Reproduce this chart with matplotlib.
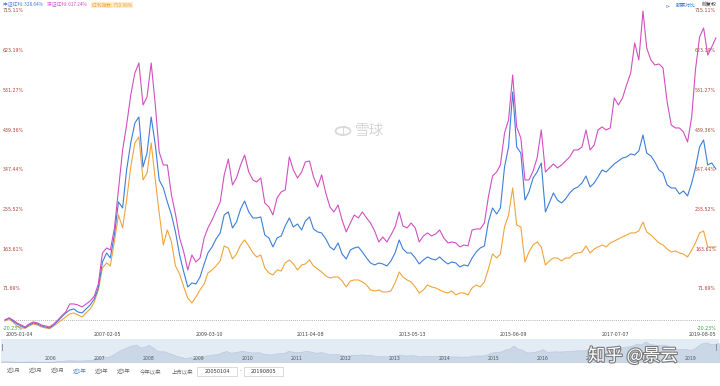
import matplotlib
matplotlib.use("Agg")
import matplotlib.pyplot as plt
import matplotlib.patheffects as pe
from matplotlib.patches import Rectangle, Circle
import pandas as pd

plt.rcParams["font.family"] = ["Noto Sans CJK SC", "DejaVu Sans"]

# monthly sample points, Jan 2005 .. Aug 2019
dates = pd.date_range("2005-01-01", periods=176, freq="MS")

# 深证红利 cumulative return (%)
szhl = [
    0, 4.6, 0, -6.9, -11.6, -16.2, -9.3, -4.6, -6.9, -11.6, -13.9, -16.2, -9.3, 0, 9.3, 18.5,
    37.0, 37.0, 34.7, 30.1, 37.0, 44.0, 55.5, 83.3, 155.1, 166.6, 162.0, 212.9, 300.9, 393.5,
    451.3, 520.8, 571.7, 594.8, 497.6, 516.1, 594.8, 497.6, 388.8, 358.7, 358.7, 289.3, 245.3,
    189.8, 157.4, 115.7, 150.4, 134.2, 143.5, 189.8, 212.9, 231.5, 252.3, 273.1, 335.6, 372.4,
    312.5, 328.7, 358.7, 381.9, 342.5, 324.0, 319.4, 328.7, 270.8, 261.5, 243.0, 282.4, 296.3,
    300.9, 377.3, 347.2, 328.7, 342.5, 365.7, 368.0, 331.0, 307.8, 335.6, 293.9, 261.5, 250.0,
    266.2, 231.5, 203.7, 224.5, 243.0, 236.1, 250.0, 236.1, 224.5, 206.0, 180.5, 192.1, 180.5,
    196.7, 215.2, 250.0, 217.6, 212.9, 224.5, 212.9, 180.5, 194.4, 201.4, 194.4, 199.0, 208.3,
    189.8, 178.2, 180.5, 178.2, 169.0, 173.6, 171.3, 208.3, 210.6, 210.6, 224.5, 284.7, 333.3,
    342.5, 358.7, 432.8, 462.9, 567.1, 446.7, 421.2, 324.0, 324.0, 344.9, 374.9, 439.8, 342.5,
    351.8, 361.1, 351.8, 358.7, 368.0, 377.3, 393.5, 393.5, 400.4, 439.8, 393.5, 405.0, 439.8,
    446.7, 439.8, 444.4, 513.8, 497.6, 513.8, 543.9, 571.7, 641.1, 601.8, 715.11, 629.5, 601.8,
    590.2, 592.5, 583.3, 504.6, 451.3, 444.4, 444.4, 435.1, 412.0, 469.8, 578.6, 655.0, 675.8,
    613.3, 631.9, 652.7,
]

# 中证红利 cumulative return (%)
zzhl = [
    0, 4.6, -2.3, -9.3, -13.9, -18.5, -11.6, -6.9, -9.3, -13.9, -16.2, -18.5, -11.6, -2.3, 6.9,
    16.2, 23.1, 25.5, 18.5, 16.2, 25.5, 34.7, 48.6, 74.1, 134.2, 155.1, 143.5, 199.0, 273.1,
    259.2, 347.2, 409.7, 456.0, 469.8, 354.1, 386.5, 469.8, 405.0, 324.0, 305.5, 273.1, 243.0,
    203.7, 150.4, 111.1, 76.4, 85.6, 83.3, 99.5, 129.6, 155.1, 169.0, 187.5, 201.4, 243.0,
    250.0, 212.9, 226.8, 256.9, 275.4, 250.0, 236.1, 236.1, 238.4, 196.7, 189.8, 169.0, 189.8,
    194.4, 217.6, 236.1, 215.2, 222.2, 208.3, 229.1, 238.4, 210.6, 203.7, 201.4, 187.5, 169.0,
    162.0, 178.2, 152.8, 141.2, 162.0, 166.6, 169.0, 157.4, 143.5, 131.9, 127.3, 131.9, 129.6,
    125.0, 136.6, 155.1, 185.2, 164.3, 155.1, 155.1, 143.5, 129.6, 138.9, 145.8, 141.2, 138.9,
    145.8, 136.6, 129.6, 134.2, 131.9, 122.7, 127.3, 125.0, 143.5, 157.4, 166.6, 171.3, 226.8,
    259.2, 245.3, 259.2, 354.1, 400.4, 527.7, 400.4, 386.5, 277.7, 296.3, 328.7, 342.5, 363.4,
    250.0, 270.8, 293.9, 277.7, 270.8, 280.1, 293.9, 303.2, 307.8, 317.1, 333.3, 307.8, 317.1,
    331.0, 347.2, 342.5, 351.8, 361.1, 368.0, 374.9, 377.3, 384.2, 381.9, 391.2, 428.2, 386.5,
    379.6, 365.7, 347.2, 340.2, 312.5, 305.5, 305.5, 291.6, 298.6, 287.0, 317.1, 351.8, 400.4,
    416.6, 358.7, 363.4, 349.5,
]

# 红利指数 cumulative return (%)
hlzs = [
    -2.3, 2.3, -4.6, -13.9, -18.5, -19.0, -13.9, -9.3, -11.6, -16.2, -18.5, -20.23, -13.9, -6.9,
    0, 6.9, 13.9, 16.2, 11.6, 6.9, 16.2, 25.5, 41.7, 69.4, 120.4, 131.9, 125.0, 182.8, 243.0,
    212.9, 277.7, 354.1, 409.7, 423.6, 324.0, 340.2, 409.7, 324.0, 247.7, 173.6, 208.3, 180.5,
    125.0, 106.5, 76.4, 50.9, 39.3, 53.2, 69.4, 83.3, 108.8, 115.7, 125.0, 136.6, 171.3, 166.6,
    141.2, 152.8, 173.6, 185.2, 171.3, 155.1, 145.8, 150.4, 120.4, 108.8, 104.2, 115.7, 113.4,
    131.9, 138.9, 129.6, 115.7, 127.3, 129.6, 138.9, 125.0, 118.0, 111.1, 101.8, 97.2, 99.5,
    99.5, 90.3, 76.4, 90.3, 92.6, 92.6, 88.0, 81.0, 69.4, 67.1, 69.4, 64.8, 64.8, 67.1, 85.6,
    111.1, 99.5, 92.6, 88.0, 76.4, 62.5, 69.4, 81.0, 76.4, 74.1, 69.4, 64.8, 62.5, 67.1, 57.9,
    62.5, 62.5, 57.9, 74.1, 81.0, 76.4, 88.0, 118.0, 152.8, 143.5, 152.8, 215.2, 243.0, 305.5,
    219.9, 215.2, 134.2, 157.4, 173.6, 180.5, 169.0, 127.3, 136.6, 143.5, 143.5, 136.6, 143.5,
    143.5, 152.8, 155.1, 157.4, 171.3, 155.1, 164.3, 169.0, 173.6, 169.0, 178.2, 182.8, 187.5,
    192.1, 196.7, 201.4, 201.4, 206.0, 226.8, 203.7, 196.7, 187.5, 178.2, 173.6, 164.3, 157.4,
    159.7, 155.1, 152.8, 145.8, 162.0, 178.2, 201.4, 206.0, 169.0, 169.0, 169.0,
]

series_names = ["中证红利", "深证红利", "红利指数"]
legend_values = ["328.64%", "617.24%", "750.96%"]
series_colors = ["#3d7fd6", "#d24fc1", "#f0a43c"]

y_ticks = [715.11, 623.19, 531.27, 439.36, 347.44, 255.52, 163.61, 71.69, -20.23]
date_ticks = ["2005-01-04", "2007-02-05", "2009-03-10", "2011-04-08",
              "2013-05-13", "2015-06-09", "2017-07-07", "2019-08-05"]
nav_years = list(range(2006, 2020))
range_buttons = ["近1月", "近3月", "近6月", "近1年", "近3年", "近5年", "今年以来", "上市以来"]
start_date = "20050104"
end_date = "20190805"

W, H = 720, 386


def fx(x):
    return x / W


def fy(y):
    return 1 - y / H


fig = plt.figure(figsize=(W / 100, H / 100), dpi=100)
fig.patch.set_facecolor("white")

# main chart
ax = fig.add_axes([fx(5), fy(328.7), 711.4 / W, 317.7 / H])
ax.set_xlim(dates[0], dates[-1])
ax.set_ylim(min(y_ticks), max(y_ticks))
for s in ax.spines.values():
    s.set_visible(False)
ax.set_yticks([])

ax.axhline(0, color="#9a9a9a", lw=0.6, ls=(0, (1, 1.5)), zorder=1)
ax.plot(dates, hlzs, color=series_colors[2], lw=0.8, zorder=3, clip_on=False)
ax.plot(dates, zzhl, color=series_colors[0], lw=0.8, zorder=4, clip_on=False)
ax.plot(dates, szhl, color=series_colors[1], lw=0.8, zorder=5, clip_on=False)

# value labels on both sides
for v in y_ticks:
    c = "#3f9f4f" if v < 0 else "#b0453c"
    ax.text(-0.003, v, f"{v:.2f}%", transform=ax.get_yaxis_transform(),
            ha="left", va="center", fontsize=3.4, color=c, family="DejaVu Sans")
    ax.text(0.9995, v, f"{v:.2f}%", transform=ax.get_yaxis_transform(),
            ha="right", va="center", fontsize=3.4, color=c, family="DejaVu Sans")

ax.set_xticks(pd.to_datetime(date_ticks))
ax.set_xticklabels(date_ticks, fontsize=3.4, color="#444444", family="DejaVu Sans")
ax.tick_params(axis="x", length=0, pad=2.2)
labels = ax.get_xticklabels()
labels[0].set_horizontalalignment("left")
labels[-1].set_horizontalalignment("right")

# navigator strip
nav = fig.add_axes([fx(1), fy(362), 718 / W, 23 / H])
nav.set_facecolor("#e3ebf5")
nav.set_xlim(dates[0], dates[-1])
nav.set_ylim(-20.23, 800)
nav.fill_between(dates, szhl, -20.23, color="#cad7e7", lw=0.4, edgecolor="#b6c6da")
for s in nav.spines.values():
    s.set_visible(False)
nav.set_xticks([])
nav.set_yticks([])
for yr in nav_years:
    nav.text(pd.Timestamp(f"{yr}-01-01"), 0.14, str(yr), transform=nav.get_xaxis_transform(),
             ha="center", va="center", fontsize=3.3, color="#555555", family="DejaVu Sans")
fig.patches.append(Rectangle((fx(2), fy(351)), 1.2 / W, 7 / H, transform=fig.transFigure,
                             facecolor="#8a96a6", edgecolor="none"))
fig.patches.append(Rectangle((fx(716), fy(351)), 1.2 / W, 7 / H, transform=fig.transFigure,
                             facecolor="#8a96a6", edgecolor="none"))

# legend line at top
legend_x = [3, 47, 92]
for i, name in enumerate(series_names):
    kw = {}
    if i == 2:
        kw["bbox"] = dict(boxstyle="square,pad=0.15", facecolor="#fdeccd", edgecolor="none")
    fig.text(fx(legend_x[i]), fy(5), f"{name}: {legend_values[i]}", fontsize=3.4,
             color=series_colors[i], ha="left", va="center", **kw)

fig.text(fx(668), fy(5.5), "⊳", fontsize=3.6, color="#3d7fd6", ha="center", va="center",
         family="DejaVu Sans")
fig.text(fx(676), fy(5.5), "股票对比", fontsize=3.6, color="#3d7fd6", ha="left", va="center")
fig.text(fx(717), fy(5.5), "前复权", fontsize=3.6, color="#333333", ha="right", va="center")

# 雪球 watermark
fig.patches.append(Circle((fx(343), fy(131)), 7.5 / W, transform=fig.transFigure,
                          facecolor="none", edgecolor="#d9d9d9", lw=1.3))
fig.text(fx(343), fy(131), "ʃ", fontsize=8, color="#d9d9d9", ha="center", va="center",
         family="DejaVu Sans")
fig.text(fx(355), fy(131), "雪球", fontsize=10.5, color="#d6d6d6", ha="left", va="center")

# range buttons row
button_x = [14, 36, 58, 80, 102, 124, 151, 182]
for bx, b in zip(button_x, range_buttons):
    fig.text(fx(bx), fy(371), b, fontsize=3.9, color="#3d7fd6" if b == "近1年" else "#666666",
             ha="center", va="center")
for x0, x1, txt in [(197, 237, start_date), (244, 283, end_date)]:
    fig.patches.append(Rectangle((fx(x0), fy(376)), (x1 - x0) / W, 9 / H,
                                 transform=fig.transFigure, facecolor="white",
                                 edgecolor="#cccccc", lw=0.5))
    fig.text(fx((x0 + x1) / 2), fy(371.5), txt, fontsize=3.6, color="#333333",
             ha="center", va="center", family="DejaVu Sans")
fig.text(fx(240.5), fy(371), "-", fontsize=3.6, color="#666666", ha="center", va="center")

# zhihu watermark, drawn over the navigator like in the screenshot
fig.text(fx(588), fy(356), "知乎 @景云", fontsize=12.5, color="white", ha="left", va="center",
         zorder=10, path_effects=[pe.withStroke(linewidth=1.6, foreground="#7a7a7a")])

fig.savefig("out.png", dpi=100)
